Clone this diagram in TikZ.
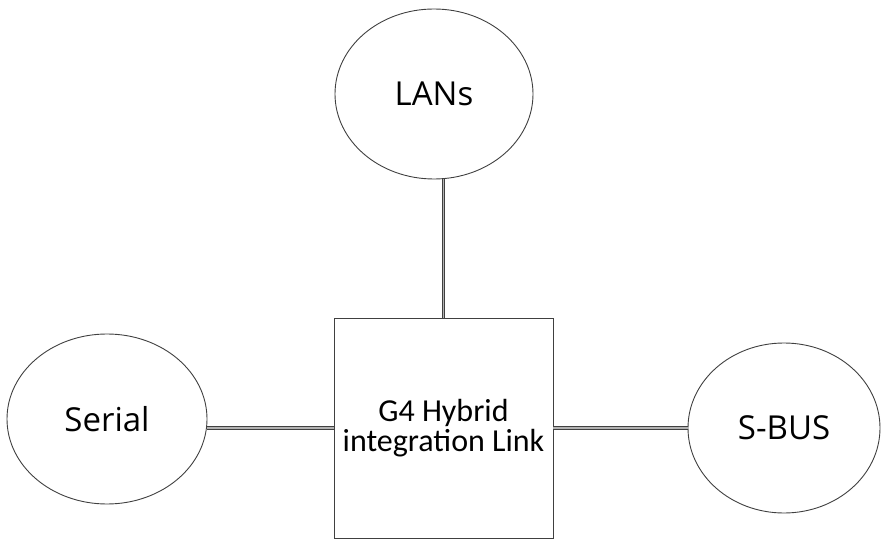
\documentclass[tikz,border=0pt]{standalone}
\usepackage{fontspec}
\setmainfont{Open Sans}
\newfontfamily\boxfont{Carlito}
\usetikzlibrary{shapes.geometric}
\begin{document}
\begin{tikzpicture}[x=1pt,y=-1pt,
  oval/.style={ellipse,draw=black!75,line width=0.9pt,inner sep=0pt,font=\fontsize{33}{38}\selectfont},
  mainbox/.style={rectangle,draw=black!75,line width=0.9pt,inner sep=0pt,minimum width=219pt,minimum height=220pt,align=center,font=\boxfont\fontsize{32}{30}\selectfont},
  link/.style={draw=black!75,line width=0.9pt,double=black!30,double distance=1.4pt}]
\useasboundingbox (0,0) rectangle (881,540);
\node[oval,minimum width=198pt,minimum height=170pt] (lans) at (434,94) {LANs};
\node[oval,minimum width=200pt,minimum height=170pt] (serial) at (107,419) {Serial};
\node[oval,minimum width=192pt,minimum height=170pt] (sbus) at (784,428) {S-BUS};
\node[mainbox] (box) at (443.5,428) {G4 Hybrid\\integration Link};
\draw[link] (box.north) -- (box.north |- lans.south);
\draw[link] (box.west) -- (box.west -| serial.east);
\draw[link] (box.east) -- (sbus.west);
\end{tikzpicture}
\end{document}
